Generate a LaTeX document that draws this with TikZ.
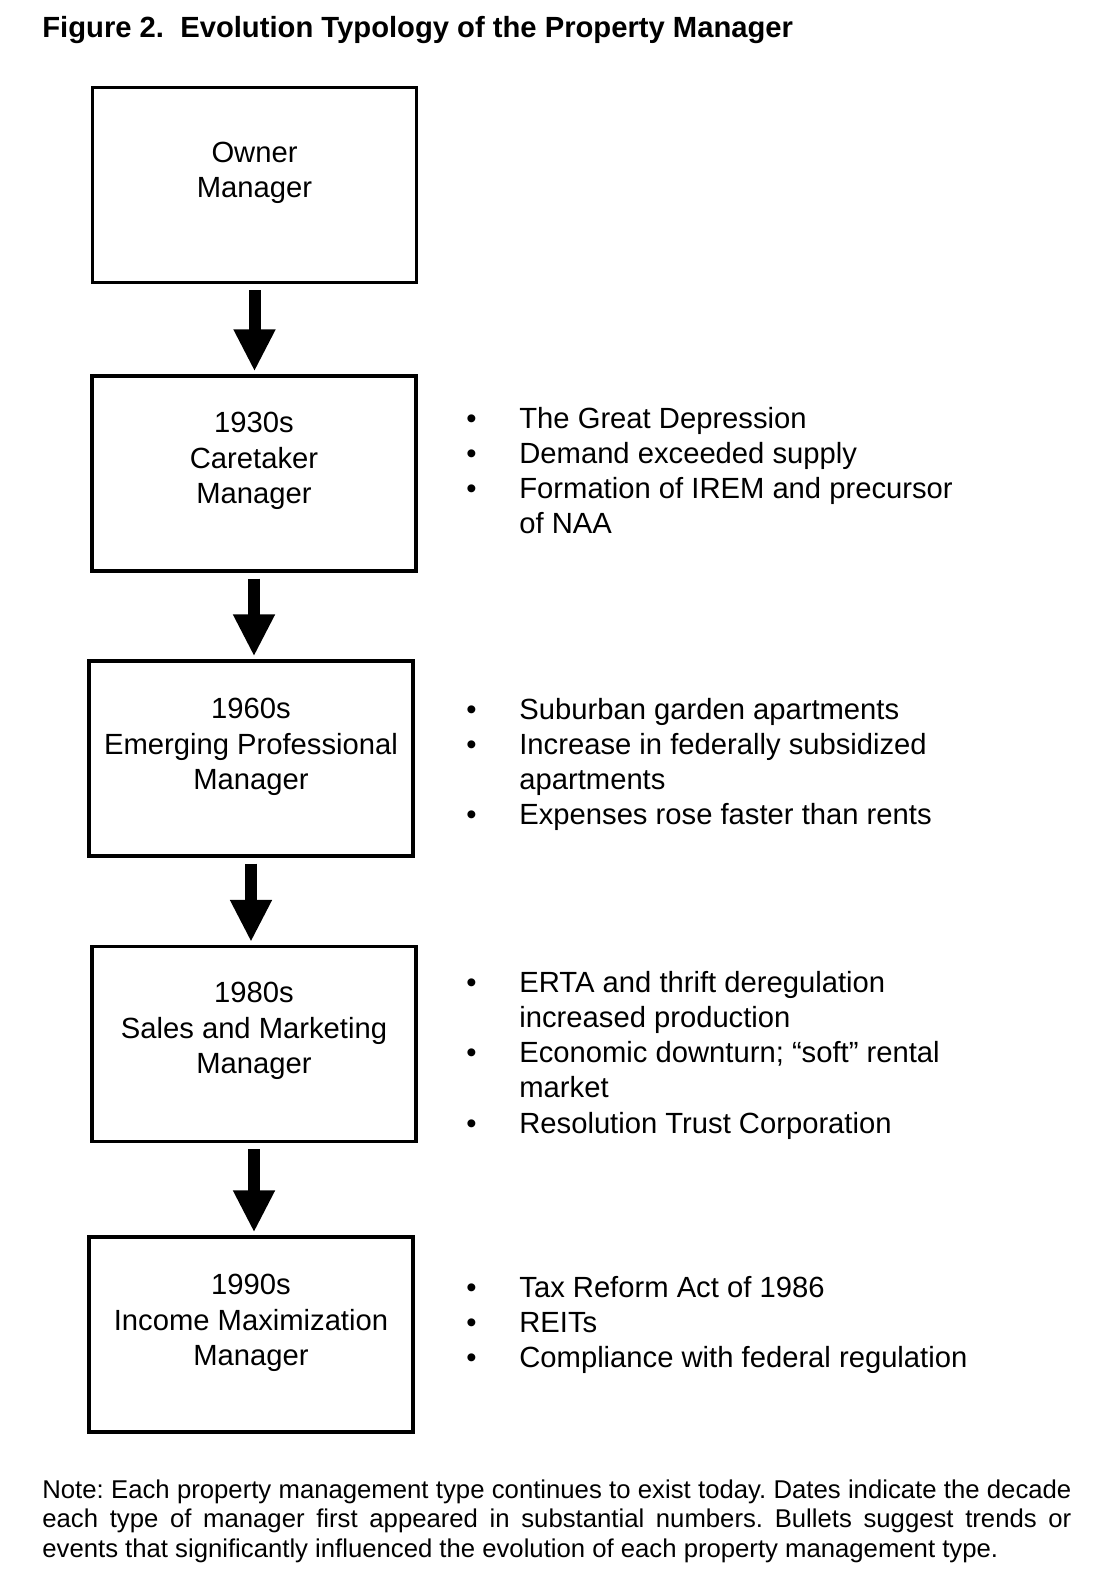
\documentclass[tikz,border=0pt]{standalone}
\usepackage{fontspec}
\setmainfont{Liberation Sans}
\usepackage{xcolor}
\usetikzlibrary{arrows.meta,positioning}
\frenchspacing

\begin{document}
\begin{tikzpicture}[
    x=0.5pt, y=-0.5pt,
    mgrbox/.style={rectangle, draw=black, line width=1.6pt,
                 minimum width=162pt, minimum height=97.5pt, inner sep=0pt},
    mgrtext/.style={font=\fontsize{14.6pt}{17.65pt}\selectfont,
                 align=center, anchor=base, inner sep=0pt},
    trend/.style={font=\fontsize{14.6pt}{17.65pt}\selectfont,
                 anchor=base west, inner sep=0pt},
    flowarr/.style={-{Triangle[length=21pt, width=19.5pt]}, line width=6pt,
                 shorten <=3pt, shorten >=1.5pt},
    caption/.style={font=\bfseries\fontsize{14.6pt}{17.65pt}\selectfont,
                 anchor=base west, inner sep=0pt},
    footnote/.style={font=\fontsize{12.85pt}{14.85pt}\selectfont,
                 anchor=base west, inner sep=0pt, text width=514.5pt,
                 align=justify},
  ]
  \useasboundingbox (0,0) rectangle (1114,1578);

  % Naslov
  \node[caption] (title) at (42,37.5)
    {Figure 2.\ \ Evolution Typology of the Property Manager};

  % Tipovi upravitelja
  \node[mgrbox] (owner) at (254.5,185) {};
  \node[mgrbox] (caretaker) at (254,473.5) {};
  \node[mgrbox] (professional) at (251,758.5) {};
  \node[mgrbox] (marketing) at (254,1044) {};
  \node[mgrbox] (income) at (251,1334.5) {};

  % (base = zadnji red)
  \node[mgrtext] (ownertxt) at (254.5,197.5) {Owner\\Manager};
  \node[mgrtext] (caretakertxt) at (254,503.5) {1930s\\Caretaker\\Manager};
  \node[mgrtext] (professionaltxt) at (251,789.5)
    {1960s\\Emerging Professional\\Manager};
  \node[mgrtext] (marketingtxt) at (254,1073.5)
    {1980s\\Sales and Marketing\\Manager};
  \node[mgrtext] (incometxt) at (251,1365.5)
    {1990s\\Income Maximization\\Manager};

  % Strelice izmedju tipova
  \draw[flowarr] (owner) -- (owner |- caretaker.north);
  \draw[flowarr] (caretaker) -- (caretaker |- professional.north);
  \draw[flowarr] (professional) -- (professional |- marketing.north);
  \draw[flowarr] (marketing) -- (marketing |- income.north);

  % Trendovi uz svaki tip
  \node[trend] (caretakerlist) at (466,428) {%
    \begin{tabular}[t]{@{}p{26.5pt}@{}l@{}}
      \textbullet & The Great Depression\\
      \textbullet & Demand exceeded supply\\
      \textbullet & Formation of IREM and precursor\\
                  & of NAA
    \end{tabular}};
  \node[trend] (professionallist) at (466,719) {%
    \begin{tabular}[t]{@{}p{26.5pt}@{}l@{}}
      \textbullet & Suburban garden apartments\\
      \textbullet & Increase in federally subsidized\\
                  & apartments\\
      \textbullet & Expenses rose faster than rents
    \end{tabular}};
  \node[trend] (marketinglist) at (466,992) {%
    \begin{tabular}[t]{@{}p{26.5pt}@{}l@{}}
      \textbullet & ERTA and thrift deregulation\\
                  & increased production\\
      \textbullet & Economic downturn; “soft” rental\\
                  & market\\
      \textbullet & Resolution Trust Corporation
    \end{tabular}};
  \node[trend] (incomelist) at (466,1297) {%
    \begin{tabular}[t]{@{}p{26.5pt}@{}l@{}}
      \textbullet & Tax Reform Act of 1986\\
      \textbullet & REITs\\
      \textbullet & Compliance with federal regulation
    \end{tabular}};

  % Napomena ispod
  \node[footnote] (note) at (42,1498)
    {Note: Each property management type continues to exist today. Dates
     indicate the decade\linebreak each type of manager first appeared in
     substantial numbers. Bullets suggest trends or\linebreak events that
     significantly influenced the evolution of each property management
     type.};
\end{tikzpicture}
\end{document}
